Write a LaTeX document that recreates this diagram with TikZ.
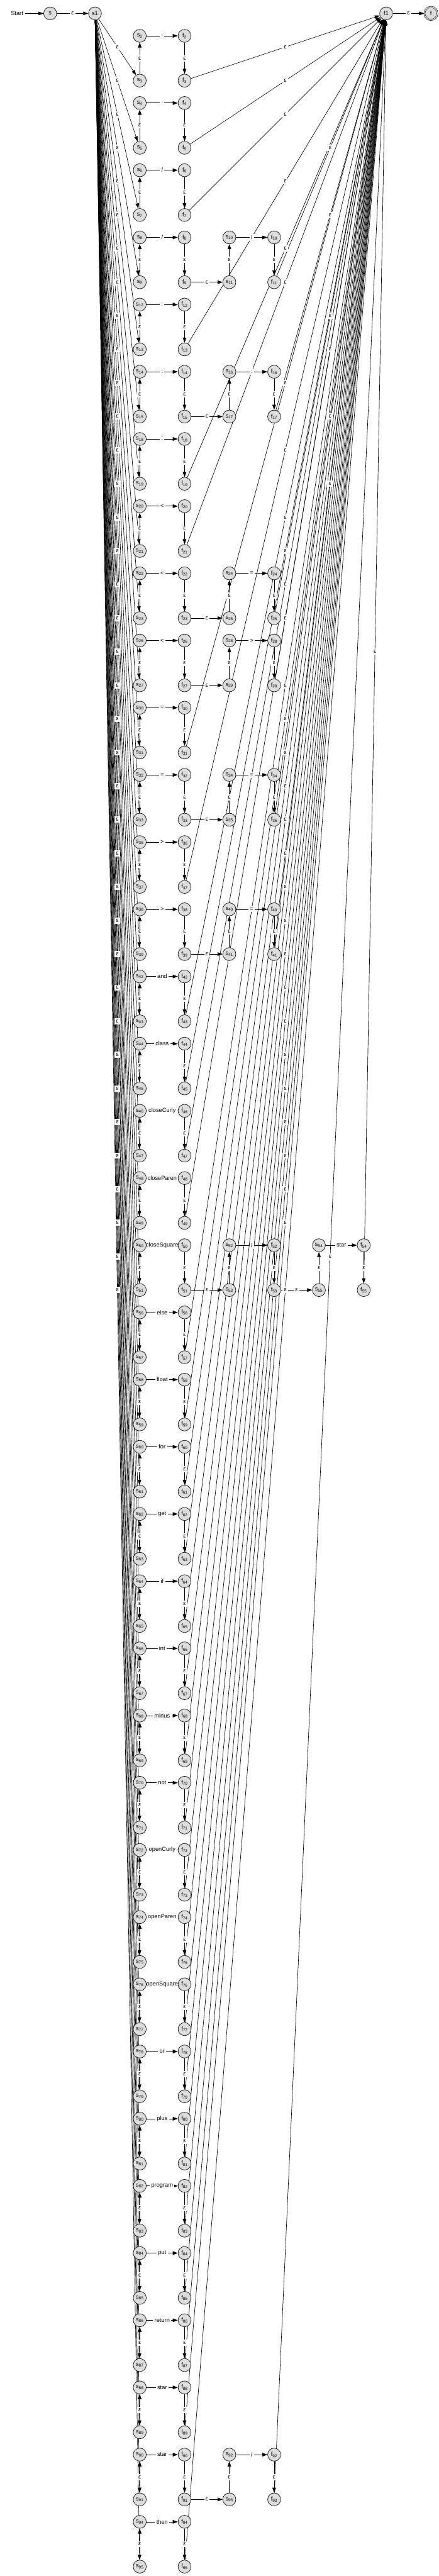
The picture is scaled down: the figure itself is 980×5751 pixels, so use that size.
\documentclass[tikz,border=0pt]{standalone}
\usepackage{fontspec}
\setmainfont{Liberation Sans}
\usetikzlibrary{arrows.meta, positioning}

\pgfdeclarelayer{edges}
\pgfdeclarelayer{labels}
\pgfsetlayers{edges,labels,main}

\definecolor{stategray}{RGB}{221,221,221}
\newcommand{\diagfont}{\fontsize{9.75}{11}\selectfont}

% one connector with its label in the middle
\newcommand{\edge}[3]{%
  \begin{pgfonlayer}{edges}\draw[arrow] (#1) -- (#2);\end{pgfonlayer}
  \begin{pgfonlayer}{labels}\path (#1) -- node[lbl]{#3} (#2);\end{pgfonlayer}}

% one character block: s_i -> f_i, s_{i+1} -> s_i, f_i -> f_{i+1}
\newcommand{\stage}[4]{%
  \pgfmathtruncatemacro{\j}{#3+1}
  \node[state] (s#3) at (#1, {30+50*#2}) {s\textsubscript{#3}};
  \node[state] (s\j) at (#1, {130+50*#2}) {s\textsubscript{\j}};
  \node[state] (f#3) at ({#1+100}, {30+50*#2}) {f\textsubscript{#3}};
  \node[state] (f\j) at ({#1+100}, {130+50*#2}) {f\textsubscript{\j}};
  \edge{s#3}{f#3}{#4}
  \edge{s\j}{s#3}{ε}
  \edge{f#3}{f\j}{ε}}

\begin{document}
\begin{tikzpicture}[
    x=0.75pt, y=-0.75pt, font=\diagfont,
    state/.style={
        circle, draw=black, fill=stategray, line width=0.7pt,
        minimum size=21.75pt, inner sep=0pt
    },
    arrow/.style={-{Triangle[length=8.5pt,width=6pt]}, line width=0.7pt},
    lbl/.style={fill=white, inner sep=2.5pt}
]
\useasboundingbox (0,0) rectangle (980,5751);

\node (start) at (38,30) {Start};
\node[state] (s) at (112,30) {s};
\node[state] (s1) at (212,30) {s1};
\node[state] (f1) at (862,30) {f1};
\node[state, double, double distance=1.2pt] (f) at (962,30) {f};
\begin{pgfonlayer}{edges}\draw[arrow] (start) -- (s);\end{pgfonlayer}
\edge{s}{s1}{ε}
\edge{f1}{f}{ε}

% first character of every token
\foreach \r/\i/\lab in {1/2/{,}, 4/4/., 7/6/{/}, 10/8/{/}, 13/12/:, 16/14/:,
    19/18/;, 22/20/<, 25/22/<, 28/26/<, 31/30/=, 34/32/=, 37/36/>,
    40/38/>, 43/42/and, 46/44/class, 49/46/closeCurly, 52/48/closeParen,
    55/50/closeSquare, 58/56/else, 61/58/float, 64/60/for, 67/62/get,
    70/64/if, 73/66/int, 76/68/minus, 79/70/not, 82/72/openCurly,
    85/74/openParen, 88/76/openSquare, 91/78/or, 94/80/plus,
    97/82/program, 100/84/put, 103/86/return, 106/88/star, 109/90/star,
    112/94/then} {
  \stage{312}{\r}{\i}{\lab}
  \pgfmathtruncatemacro{\ia}{\i+1}
  \edge{s1}{s\ia}{ε}
}

% second character
\foreach \r/\i/\lab in {10/8/{/}, 16/14/:, 25/22/=, 28/26/>, 34/32/=,
    40/38/=, 55/50/{/}, 109/90/{/}} {
  \pgfmathtruncatemacro{\ia}{\i+1}
  \pgfmathtruncatemacro{\ib}{\i+2}
  \pgfmathtruncatemacro{\ic}{\i+3}
  \stage{512}{\r}{\ib}{\lab}
  \edge{f\ia}{s\ic}{ε}
}

% third character
\stage{712}{55}{54}{star}
\edge{f53}{s55}{ε}

% every token ends in f1
\foreach \i in {3,5,7,11,13,17,19,21,25,29,31,35,37,41,43,45,47,49,55,
    57,59,61,63,65,67,69,71,73,75,77,79,81,83,85,87,89,93,95} {
  \edge{f\i}{f1}{ε}
}
\end{tikzpicture}
\end{document}
